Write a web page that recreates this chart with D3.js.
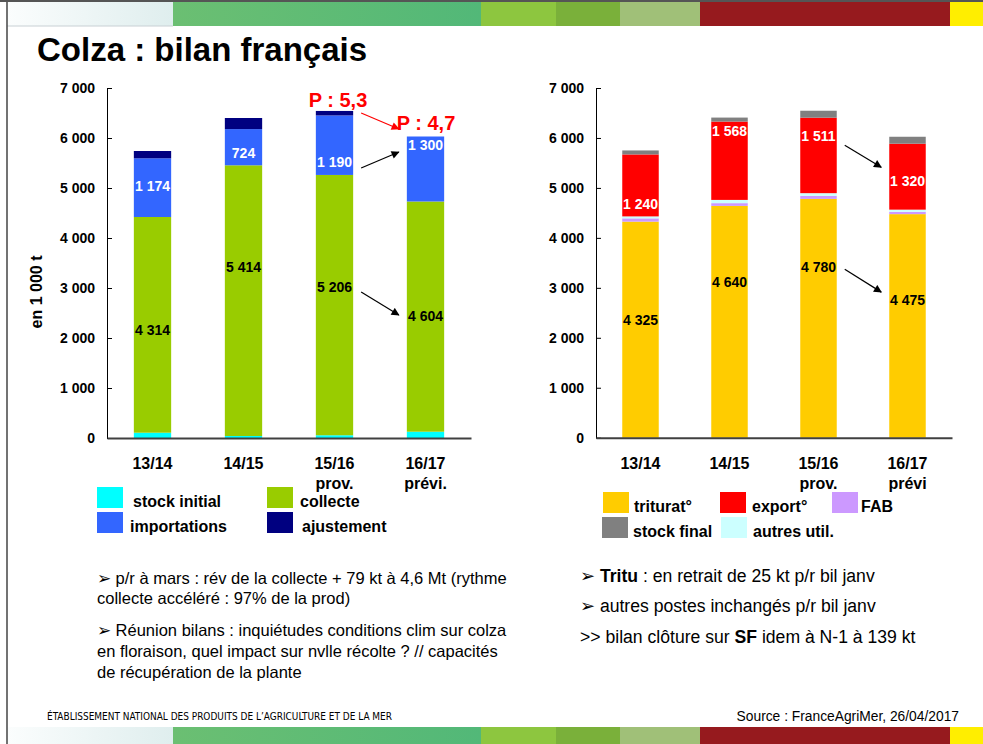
<!DOCTYPE html>
<html>
<head>
<meta charset="utf-8">
<script src="https://cdn.jsdelivr.net/npm/d3@7"></script>
<style>
  body { margin: 0; background: #fff; }
  svg { display: block; font-family: "Liberation Sans", Arial, sans-serif; }
</style>
</head>
<body>
<svg id="slide" width="983" height="744"></svg>
<script>
// ---- data ----
const categoriesLeft = [["13/14"], ["14/15"], ["15/16", "prov."], ["16/17", "prévi."]];
const categoriesRight = [["13/14"], ["14/15"], ["15/16", "prov."], ["16/17", "prévi"]];

const stockInitial = [106, 40, 55, 126];
const collecte = [4314, 5414, 5206, 4604];
const importations = [1174, 724, 1190, 1300];
const ajustement = [146, 222, 90, 0];

const trituration = [4325, 4640, 4780, 4475];
const fab = [65, 55, 60, 45];
const autresUtil = [40, 65, 55, 45];
const exportations = [1240, 1568, 1511, 1320];
const stockFinal = [80, 80, 139, 139];

const yTicks = [0, 1000, 2000, 3000, 4000, 5000, 6000, 7000];

const seriesLeft = [
    { key: "stock initial", values: stockInitial, color: "#00ffff" },
    { key: "collecte", values: collecte, color: "#99cc00", label: "#000" },
    { key: "importations", values: importations, color: "#3366ff", label: "#fff" },
    { key: "ajustement", values: ajustement, color: "#000080" },
];
const seriesRight = [
    { key: "triturat°", values: trituration, color: "#ffcc00", label: "#000" },
    { key: "FAB", values: fab, color: "#cc99ff" },
    { key: "autres util.", values: autresUtil, color: "#ccffff" },
    { key: "export°", values: exportations, color: "#ff0000", label: "#fff" },
    { key: "stock final", values: stockFinal, color: "#808080" },
];

// label nudges (px) from the segment middle, as placed on the slide
const labelShiftLeft = { "collecte": [5, -34, -18, -1], "importations": [-2, 6, 17, -24] };
const labelShiftRight = { "triturat°": [-10, -40, -51, -26], "export°": [19, -30, -19, 4] };

const svg = d3.select("#slide");
const fmt = (d) => d3.format(",")(d).replace(/,/g, " ");

// ---- slide frame ----
const bandColors = [
    { x0: 7, x1: 173, c: "url(#fade)" },
    { x0: 173, x1: 481, c: "url(#green)" },
    { x0: 481, x1: 556, c: "#8dc63f" },
    { x0: 556, x1: 620, c: "#7ab03a" },
    { x0: 620, x1: 700, c: "#a0c078" },
    { x0: 700, x1: 950, c: "#961a1e" },
    { x0: 950, x1: 983, c: "#ffee00" },
];
const defs = svg.append("defs");
const fade = defs.append("linearGradient").attr("id", "fade");
fade.append("stop").attr("offset", 0).attr("stop-color", "#fbfdfd");
fade.append("stop").attr("offset", 1).attr("stop-color", "#dfeeee");
const green = defs.append("linearGradient").attr("id", "green");
green.append("stop").attr("offset", 0).attr("stop-color", "#6bbf72");
green.append("stop").attr("offset", 1).attr("stop-color", "#52b878");

[[2, 24], [727, 17]].forEach(([y, h]) => {
    svg.append("g").selectAll("rect").data(bandColors).join("rect")
        .attr("x", (d) => d.x0).attr("y", y)
        .attr("width", (d) => d.x1 - d.x0).attr("height", h)
        .attr("fill", (d) => d.c);
});
svg.append("line").attr("x1", 0).attr("x2", 983).attr("y1", 1).attr("y2", 1)
    .attr("stroke", "#555").attr("stroke-width", 2);
svg.append("line").attr("x1", 7).attr("x2", 173).attr("y1", 26).attr("y2", 26)
    .attr("stroke", "#c8d0d4").attr("stroke-width", 1);
svg.append("line").attr("x1", 7).attr("x2", 7).attr("y1", 2).attr("y2", 744)
    .attr("stroke", "#444").attr("stroke-width", 1.5);

svg.append("text").attr("x", 37).attr("y", 61)
    .attr("font-size", 33).attr("font-weight", "bold").text("Colza : bilan français");

defs.append("marker").attr("id", "head-black")
    .attr("viewBox", "0 0 10 10").attr("refX", 9).attr("refY", 5)
    .attr("markerWidth", 9).attr("markerHeight", 8).attr("orient", "auto")
    .attr("markerUnits", "userSpaceOnUse")
    .append("path").attr("d", "M0,0L10,5L0,10z").attr("fill", "#000");
defs.append("marker").attr("id", "head-red")
    .attr("viewBox", "0 0 10 10").attr("refX", 9).attr("refY", 5)
    .attr("markerWidth", 9).attr("markerHeight", 8).attr("orient", "auto")
    .attr("markerUnits", "userSpaceOnUse")
    .append("path").attr("d", "M0,0L10,5L0,10z").attr("fill", "#ff0000");

// ---- chart builder ----
function drawChart(opts) {
    const g = svg.append("g");
    const x = d3.scaleBand().domain(d3.range(4)).range([opts.left, opts.right]).paddingInner(0.59).paddingOuter(0.295);
    const y = d3.scaleLinear().domain([0, 7000]).range([opts.bottom, opts.top]);

    const table = d3.range(4).map((i) => {
        const row = { i };
        opts.series.forEach((s) => (row[s.key] = s.values[i]));
        return row;
    });
    const stacked = d3.stack().keys(opts.series.map((s) => s.key))(table);

    stacked.forEach((layer, li) => {
        const s = opts.series[li];
        g.append("g").selectAll("rect").data(layer).join("rect")
            .attr("x", (d) => x(d.data.i))
            .attr("y", (d) => y(d[1]))
            .attr("width", x.bandwidth())
            .attr("height", (d) => y(d[0]) - y(d[1]))
            .attr("fill", s.color);
        if (s.label) {
            g.append("g").selectAll("text").data(layer).join("text")
                .attr("x", (d) => x(d.data.i) + x.bandwidth() / 2)
                .attr("y", (d, i) => (y(d[0]) + y(d[1])) / 2 + opts.shift[s.key][i])
                .attr("dy", "0.36em")
                .attr("text-anchor", "middle")
                .attr("font-size", 14).attr("font-weight", "bold")
                .attr("fill", s.label)
                .text((d) => fmt(d[1] - d[0]));
        }
    });

    const yAxis = g.append("g").attr("transform", `translate(${opts.left},0)`)
        .call(d3.axisLeft(y).tickValues(yTicks).tickSizeInner(-5).tickSizeOuter(0).tickPadding(12).tickFormat(fmt));
    yAxis.select(".domain").attr("stroke", "#000");
    yAxis.selectAll("text").attr("font-size", 14).attr("font-weight", "bold").attr("fill", "#000")
        .attr("font-family", "Liberation Sans, Arial, sans-serif");

    const xAxis = g.append("g").attr("transform", `translate(0,${opts.bottom})`)
        .call(d3.axisBottom(x).tickSize(0).tickSizeOuter(0).tickFormat(""));
    xAxis.select(".domain").attr("stroke", "#404040").attr("stroke-width", 2);
    g.append("g").selectAll("text").data(opts.categories).join("text")
        .attr("x", (d, i) => x(i) + x.bandwidth() / 2)
        .attr("y", opts.bottom + 31)
        .attr("text-anchor", "middle")
        .attr("font-size", 16).attr("font-weight", "bold")
        .each(function (d) {
            d3.select(this).selectAll("tspan").data(d).join("tspan")
                .attr("x", d3.select(this).attr("x"))
                .attr("dy", (t, k) => (k ? 20 : 0))
                .text((t) => t);
        });

    // legend
    const lg = g.append("g");
    opts.legend.forEach((row, r) => {
        row.forEach((item) => {
            const s = opts.series.find((d) => d.key === item.key);
            lg.append("rect").attr("x", item.x).attr("y", opts.legendY + r * 25)
                .attr("width", 26).attr("height", 21).attr("fill", s.color);
            lg.append("text").attr("x", item.x + item.dx).attr("y", opts.legendY + r * 25 + 20)
                .attr("font-size", 16).attr("font-weight", "bold").text(item.key);
        });
    });

    // annotation arrows between the 15/16 and 16/17 bars
    opts.arrows.forEach((a) => {
        g.append("line")
            .attr("x1", x(2) + x.bandwidth() + 8).attr("y1", y(a[0]))
            .attr("x2", x(3) - 8).attr("y2", y(a[1]))
            .attr("stroke", a[2] || "#000").attr("stroke-width", 1.2)
            .attr("marker-end", a[2] ? "url(#head-red)" : "url(#head-black)");
    });
    return { x, y, g };
}

const left = drawChart({
    left: 107, right: 471, top: 88, bottom: 438,
    series: seriesLeft, categories: categoriesLeft, shift: labelShiftLeft,
    legendY: 487,
    legend: [
        [{ key: "stock initial", x: 97, dx: 36 }, { key: "collecte", x: 267, dx: 33 }],
        [{ key: "importations", x: 97, dx: 33 }, { key: "ajustement", x: 267, dx: 35 }],
    ],
    arrows: [[6500, 6180, "#ff0000"], [5400, 5720], [2920, 2460]],
});
const right = drawChart({
    left: 596, right: 952, top: 88, bottom: 437.7,
    series: seriesRight, categories: categoriesRight, shift: labelShiftRight,
    legendY: 492,
    legend: [
        [{ key: "triturat°", x: 603, dx: 31 }, { key: "export°", x: 720, dx: 32 }, { key: "FAB", x: 832, dx: 29 }],
        [{ key: "stock final", x: 602, dx: 31 }, { key: "autres util.", x: 721, dx: 32 }],
    ],
    arrows: [[5854, 5414], [3374, 2914]],
});

// P annotations
left.g.append("text").attr("x", 338).attr("y", 107).attr("text-anchor", "middle")
    .attr("font-size", 20).attr("font-weight", "bold").attr("fill", "#ff0000").text("P : 5,3");
left.g.append("text").attr("x", 426).attr("y", 130).attr("text-anchor", "middle")
    .attr("font-size", 20).attr("font-weight", "bold").attr("fill", "#ff0000").text("P : 4,7");

// y title
svg.append("text").attr("transform", "translate(42,292) rotate(-90)")
    .attr("text-anchor", "middle").attr("font-size", 16).attr("font-weight", "bold").text("en 1 000 t");

// ---- comment text ----
const notesLeft = [
    { y: 584, parts: [["➢ p/r à mars : rév de la collecte + 79 kt à 4,6 Mt (rythme", false]] },
    { y: 604, parts: [["collecte accéléré : 97% de la prod)", false]] },
    { y: 636, parts: [["➢ Réunion bilans : inquiétudes conditions clim sur colza", false]] },
    { y: 657, parts: [["en floraison, quel impact sur nvlle récolte ? // capacités", false]] },
    { y: 678, parts: [["de récupération de la plante", false]] },
];
const notesRight = [
    { y: 582, parts: [["➢ ", false], ["Tritu", true], [" : en retrait de 25 kt p/r bil janv", false]] },
    { y: 612, parts: [["➢ autres postes inchangés p/r bil janv", false]] },
    { y: 643, parts: [[">> bilan clôture sur ", false], ["SF", true], [" idem à N-1 à 139 kt", false]] },
];
function notes(list, x, size) {
    svg.append("g").selectAll("text").data(list).join("text")
        .attr("x", x).attr("y", (d) => d.y).attr("font-size", size)
        .each(function (d) {
            d3.select(this).selectAll("tspan").data(d.parts).join("tspan")
                .attr("font-weight", (p) => (p[1] ? "bold" : "normal"))
                .text((p) => p[0]);
        });
}
notes(notesLeft, 97, 16.5);
notes(notesRight, 580, 17.6);

// ---- footer ----
svg.append("text").attr("x", 47).attr("y", 720)
    .attr("font-family", "Liberation Sans Narrow, DejaVu Sans Condensed, sans-serif")
    .attr("font-size", 10.5).attr("textLength", 345).attr("lengthAdjust", "spacingAndGlyphs")
    .text("ÉTABLISSEMENT NATIONAL DES PRODUITS DE L’AGRICULTURE ET DE LA MER");
svg.append("text").attr("x", 959).attr("y", 721).attr("text-anchor", "end")
    .attr("font-size", 13.8).text("Source : FranceAgriMer, 26/04/2017");
</script>
</body>
</html>
